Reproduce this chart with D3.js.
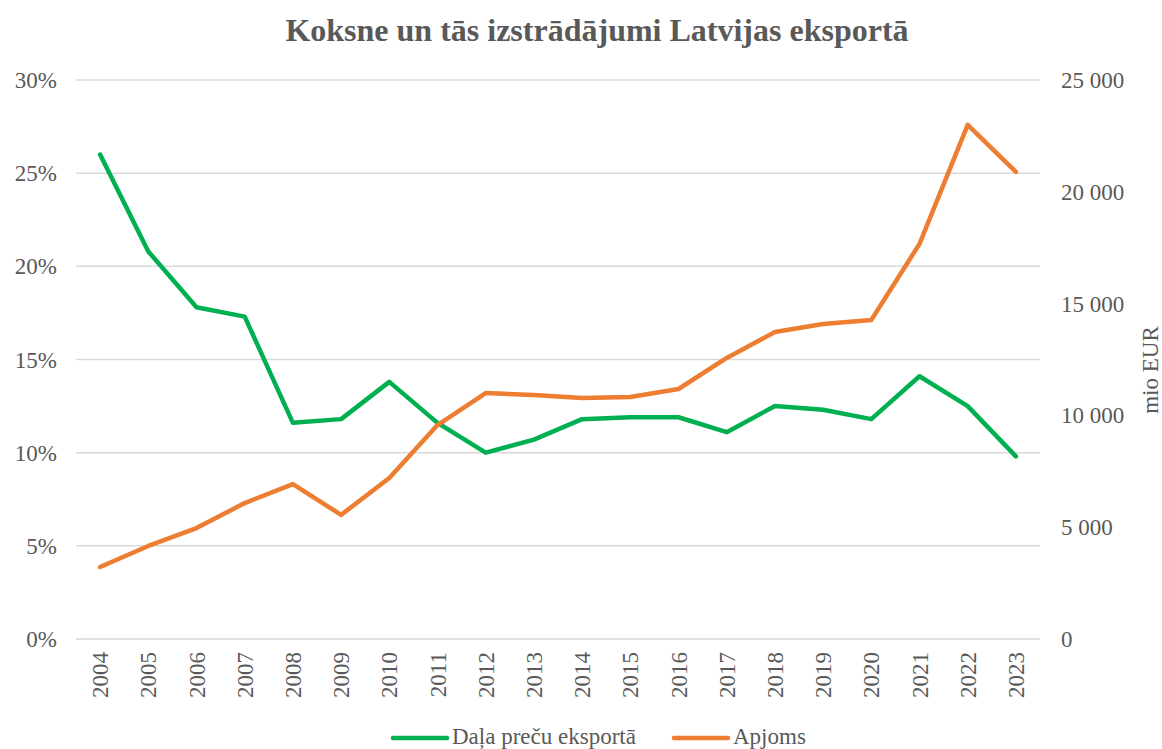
<!DOCTYPE html>
<html>
<head>
<meta charset="utf-8">
<script src="https://cdn.jsdelivr.net/npm/d3@7"></script>
<style>
  body { margin: 0; background: #fff; }
  svg text { font-family: "Liberation Serif", "DejaVu Serif", serif; fill: #595959; }
</style>
</head>
<body>
<svg id="chart" width="1162" height="749"></svg>
<script>
// data
var years = ["2004","2005","2006","2007","2008","2009","2010","2011","2012","2013",
             "2014","2015","2016","2017","2018","2019","2020","2021","2022","2023"];
var share = [26.0, 20.8, 17.8, 17.3, 11.6, 11.8, 13.8, 11.6, 10.0, 10.7,
             11.8, 11.9, 11.9, 11.1, 12.5, 12.3, 11.8, 14.1, 12.5, 9.8];
var volume = [3220, 4160, 4960, 6080, 6930, 5550, 7200, 9570, 11000, 10910,
              10780, 10820, 11180, 12570, 13730, 14090, 14270, 17670, 22990, 20890];
var leftTicks = [0, 5, 10, 15, 20, 25, 30];
var rightTicks = [0, 5000, 10000, 15000, 20000, 25000];

var svg = d3.select("#chart");
var m = { left: 76, right: 1040, top: 80, bottom: 639 };

var x = d3.scalePoint().domain(years).range([m.left, m.right]).padding(0.5);
var yL = d3.scaleLinear().domain([0, 30]).range([m.bottom, m.top]);
var yR = d3.scaleLinear().domain([0, 25000]).range([m.bottom, m.top]);

// gridlines
svg.append("g").selectAll("line").data(leftTicks).enter().append("line")
  .attr("x1", m.left).attr("x2", m.right)
  .attr("y1", function(d) { return yL(d); }).attr("y2", function(d) { return yL(d); })
  .attr("stroke", "#d9d9d9").attr("stroke-width", 1.5);

// left axis labels
svg.append("g").selectAll("text").data(leftTicks).enter().append("text")
  .attr("x", 57).attr("y", function(d) { return yL(d) + 8; })
  .attr("text-anchor", "end").style("font-size", "23px")
  .text(function(d) { return d + "%"; });

// right axis labels
var fmt = function(d) { return d3.format(",")(d).replace(/,/g, " "); };
svg.append("g").selectAll("text").data(rightTicks).enter().append("text")
  .attr("x", 1061).attr("y", function(d) { return yR(d) + 8; })
  .attr("text-anchor", "start").style("font-size", "23px")
  .text(fmt);

// year labels
svg.append("g").selectAll("text").data(years).enter().append("text")
  .attr("transform", function(d) { return "translate(" + (x(d) + 8) + ",652) rotate(-90)"; })
  .attr("text-anchor", "end").style("font-size", "23px")
  .text(function(d) { return d; });

// lines
var lineL = d3.line().x(function(d, i) { return x(years[i]); }).y(function(d) { return yL(d); });
var lineR = d3.line().x(function(d, i) { return x(years[i]); }).y(function(d) { return yR(d); });

svg.append("path").datum(share).attr("d", lineL)
  .attr("fill", "none").attr("stroke", "#00b050").attr("stroke-width", 4.5)
  .attr("stroke-linejoin", "round").attr("stroke-linecap", "round");
svg.append("path").datum(volume).attr("d", lineR)
  .attr("fill", "none").attr("stroke", "#ed7d31").attr("stroke-width", 4.5)
  .attr("stroke-linejoin", "round").attr("stroke-linecap", "round");

// title
svg.append("text").attr("x", 597).attr("y", 41).attr("text-anchor", "middle")
  .style("font-size", "32px").style("font-weight", "bold")
  .text("Koksne un tās izstrādājumi Latvijas eksportā");

// right axis title
svg.append("text").attr("transform", "translate(1158,370) rotate(-90)")
  .attr("text-anchor", "middle").style("font-size", "23px").text("mio EUR");

// legend
var legend = [
  { name: "Daļa preču eksportā", color: "#00b050", x: 393 },
  { name: "Apjoms", color: "#ed7d31", x: 674 }
];
var lg = svg.append("g").selectAll("g").data(legend).enter().append("g");
lg.append("line").attr("x1", function(d) { return d.x; }).attr("x2", function(d) { return d.x + 54; })
  .attr("y1", 738).attr("y2", 738)
  .attr("stroke", function(d) { return d.color; }).attr("stroke-width", 4.5).attr("stroke-linecap", "round");
lg.append("text").attr("x", function(d) { return d.x + 59; }).attr("y", 744)
  .style("font-size", "23px").text(function(d) { return d.name; });
</script>
</body>
</html>
